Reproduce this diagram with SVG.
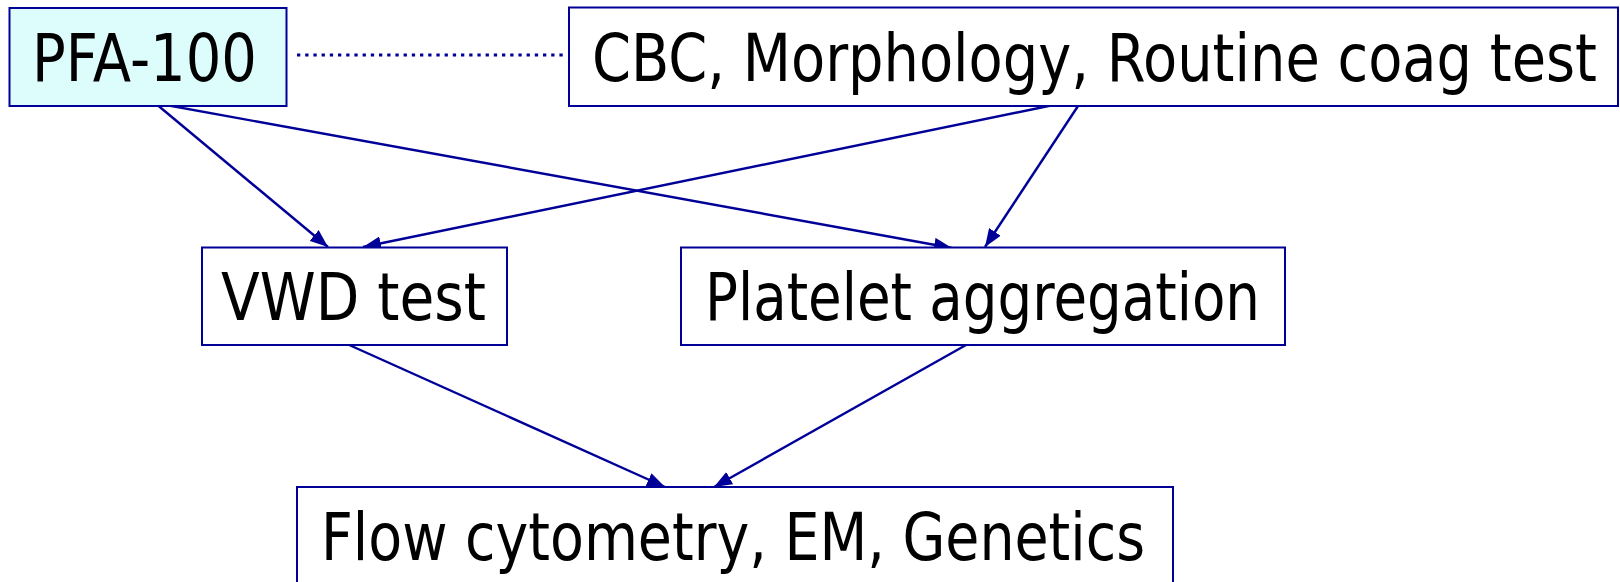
<svg xmlns="http://www.w3.org/2000/svg" width="1620" height="582" viewBox="0 0 1620 582">
  <style>
    .box { fill: #ffffff; stroke: #000099; stroke-width: 2; }
    .hl { fill: #ddfcfc; }
    .lbl { font-family: "DejaVu Sans", "Liberation Sans", sans-serif; font-size: 65px; fill: #000000; }
    .edge { stroke: #000099; stroke-width: 2.4; fill: none; marker-end: url(#arr); }
    .dot { stroke: #000099; stroke-width: 3.2; fill: none; stroke-dasharray: 3.3 4.9; }
  </style>
  <defs>
    <marker id="arr" viewBox="0 0 18 14" markerWidth="18" markerHeight="14" refX="18" refY="7" orient="auto" markerUnits="userSpaceOnUse">
      <path d="M0,0 L18,7 L0,14 z" fill="#000099"/>
    </marker>
  </defs>
  <rect width="1620" height="582" fill="#ffffff"/>
  <g id="connectors">
    <line class="dot" x1="297" y1="55" x2="567" y2="55"/>
    <line class="edge" x1="155" y1="103" x2="328" y2="247"/>
    <line class="edge" x1="155" y1="103" x2="952" y2="248"/>
    <line class="edge" x1="1063" y1="103" x2="363" y2="247"/>
    <line class="edge" x1="1080" y1="103" x2="985" y2="247"/>
    <line class="edge" x1="347" y1="344" x2="665" y2="487"/>
    <line class="edge" x1="966" y1="345" x2="714" y2="487"/>
  </g>
  <g id="node-pfa100">
    <rect class="box hl" x="9.5" y="8" width="277" height="98"/>
    <text class="lbl" x="32" y="81" textLength="225" lengthAdjust="spacingAndGlyphs">PFA-100</text>
  </g>
  <g id="node-cbc">
    <rect class="box" x="569" y="7.5" width="1049" height="98.5"/>
    <text class="lbl" x="592" y="81" textLength="1005" lengthAdjust="spacingAndGlyphs">CBC, Morphology, Routine coag test</text>
  </g>
  <g id="node-vwd">
    <rect class="box" x="202" y="247.5" width="305" height="97.5"/>
    <text class="lbl" x="221" y="320" textLength="265" lengthAdjust="spacingAndGlyphs">VWD test</text>
  </g>
  <g id="node-platelet">
    <rect class="box" x="681" y="247.5" width="604" height="97.5"/>
    <text class="lbl" x="705" y="320" textLength="555" lengthAdjust="spacingAndGlyphs">Platelet aggregation</text>
  </g>
  <g id="node-flow">
    <rect class="box" x="297" y="487" width="876" height="110"/>
    <text class="lbl" x="321" y="560" textLength="824" lengthAdjust="spacingAndGlyphs">Flow cytometry, EM, Genetics</text>
  </g>
</svg>
